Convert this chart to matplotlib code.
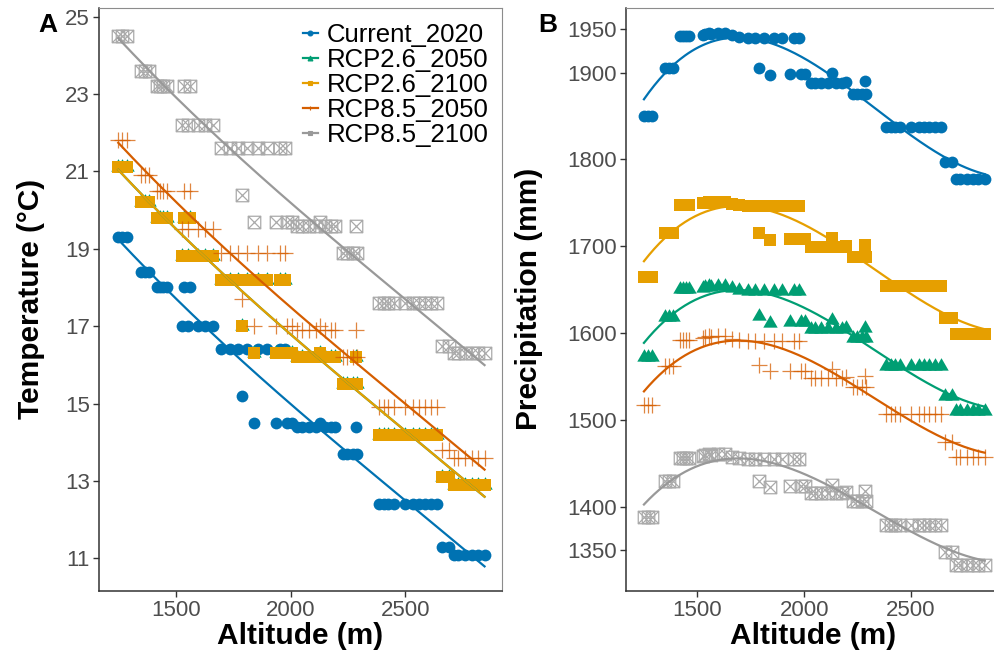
import matplotlib
matplotlib.use("Agg")
import matplotlib.pyplot as plt
import numpy as np
from matplotlib.lines import Line2D
from matplotlib.path import Path

# site altitudes (m), shared by both panels
altitude = [1250, 1268, 1286, 1348, 1366, 1384, 1418, 1432, 1446, 1460,
            1528, 1536, 1554, 1562, 1598, 1628, 1663, 1697, 1737, 1772,
            1788, 1810, 1842, 1860, 1897, 1935, 1953, 1975, 1985, 2005,
            2030, 2050, 2080, 2110, 2130, 2150, 2175, 2195, 2228, 2245,
            2270, 2284, 2290, 2385, 2405, 2425, 2450, 2500, 2535, 2560,
            2585, 2610, 2640, 2660, 2690, 2710, 2730, 2760, 2790, 2815, 2845]

# temperature (deg C)
temp_current = ([19.3] * 3 + [18.4] * 3 + [18.0] * 4
                + [17.0, 18.0, 17.0, 18.0, 17.0, 17.0, 17.0]
                + [16.4] * 3 + [15.2, 16.4, 14.5, 16.4, 16.4, 14.5, 16.4, 16.4, 14.5, 14.5]
                + [14.4] * 4 + [14.5] + [14.4] * 3 + [13.7] * 3 + [14.4, 13.7]
                + [12.4] * 10 + [11.3] * 2 + [11.1] * 6)
temp_rcp26_2050 = ([21.1] * 3 + [20.2] * 3 + [19.8] * 4
                   + [18.8, 19.8, 18.8, 19.8, 18.8, 18.8, 18.8]
                   + [18.2] * 3 + [17.0, 18.2, 16.3, 18.2, 18.2, 16.3, 18.2, 18.2, 16.3, 16.3]
                   + [16.2] * 4 + [16.3] + [16.2] * 3 + [15.5] * 3 + [16.2, 15.5]
                   + [14.2] * 10 + [13.1] * 2 + [12.9] * 6)
temp_rcp26_2100 = ([21.1] * 3 + [20.2] * 3 + [19.8] * 4
                   + [18.8, 19.8, 18.8, 19.8, 18.8, 18.8, 18.8]
                   + [18.2] * 3 + [17.0, 18.2, 16.3, 18.2, 18.2, 16.3, 18.2, 18.2, 16.3, 16.3]
                   + [16.2] * 4 + [16.3] + [16.2] * 3 + [15.5] * 3 + [16.2, 15.5]
                   + [14.2] * 10 + [13.1] * 2 + [12.9] * 6)
temp_rcp85_2050 = ([21.8] * 3 + [20.9] * 3 + [20.5] * 4
                   + [19.5, 20.5, 19.5, 20.5, 19.5, 19.5, 19.5]
                   + [18.9] * 3 + [17.7, 18.9, 17.0, 18.9, 18.9, 17.0, 18.9, 18.9, 17.0, 17.0]
                   + [16.9] * 4 + [17.0] + [16.9] * 3 + [16.2] * 3 + [16.9, 16.2]
                   + [14.9] * 10 + [13.8] * 2 + [13.6] * 6)
temp_rcp85_2100 = ([24.5] * 3 + [23.6] * 3 + [23.2] * 4
                   + [22.2, 23.2, 22.2, 23.2, 22.2, 22.2, 22.2]
                   + [21.6] * 3 + [20.4, 21.6, 19.7, 21.6, 21.6, 19.7, 21.6, 21.6, 19.7, 19.7]
                   + [19.6] * 4 + [19.7] + [19.6] * 3 + [18.9] * 3 + [19.6, 18.9]
                   + [17.6] * 10 + [16.5] * 2 + [16.3] * 6)

# precipitation (mm)
prec_current = ([1850] * 3 + [1905] * 3 + [1942] * 4
                + [1944, 1945, 1946, 1945, 1946, 1946, 1943, 1941, 1940, 1940]
                + [1906, 1940, 1897, 1940, 1940, 1898, 1940, 1940, 1898, 1898]
                + [1888] * 4 + [1900, 1888, 1888, 1889] + [1875] * 3 + [1890, 1875]
                + [1838] * 10 + [1797] * 2 + [1777] * 6)
prec_rcp26_2050 = ([1572] * 3 + [1619] * 3 + [1651] * 4
                   + [1652, 1653, 1654, 1653, 1654, 1654, 1652, 1650, 1649, 1649]
                   + [1620, 1649, 1612, 1649, 1649, 1613, 1649, 1649, 1613, 1613]
                   + [1605] * 4 + [1615, 1605, 1605, 1606] + [1594] * 3 + [1606, 1594]
                   + [1562] * 10 + [1527] * 2 + [1510] * 6)
prec_rcp26_2100 = ([1665] * 3 + [1715] * 3 + [1748] * 4
                   + [1750, 1750, 1751, 1750, 1751, 1751, 1749, 1747, 1746, 1746]
                   + [1715, 1746, 1707, 1746, 1746, 1708, 1746, 1746, 1708, 1708]
                   + [1699] * 4 + [1710, 1699, 1699, 1700] + [1688] * 3 + [1701, 1688]
                   + [1654] * 10 + [1617] * 2 + [1599] * 6)
prec_rcp85_2050 = ([1517] * 3 + [1562] * 3 + [1592] * 4
                   + [1594, 1595, 1596, 1595, 1596, 1596, 1593, 1592, 1591, 1591]
                   + [1563, 1591, 1556, 1591, 1591, 1556, 1591, 1591, 1556, 1556]
                   + [1548] * 4 + [1558, 1548, 1548, 1549] + [1538] * 3 + [1550, 1538]
                   + [1507] * 10 + [1474] * 2 + [1457] * 6)
prec_rcp85_2100 = ([1388] * 3 + [1429] * 3 + [1456] * 4
                   + [1458, 1459, 1460, 1459, 1460, 1460, 1457, 1456, 1455, 1455]
                   + [1430, 1455, 1423, 1455, 1455, 1424, 1455, 1455, 1424, 1424]
                   + [1416] * 4 + [1425, 1416, 1416, 1417] + [1406] * 3 + [1418, 1406]
                   + [1379] * 10 + [1348] * 2 + [1333] * 6)

scenarios = ["Current_2020", "RCP2.6_2050", "RCP2.6_2100", "RCP8.5_2050", "RCP8.5_2100"]
temps = [temp_current, temp_rcp26_2050, temp_rcp26_2100, temp_rcp85_2050, temp_rcp85_2100]
precs = [prec_current, prec_rcp26_2050, prec_rcp26_2100, prec_rcp85_2050, prec_rcp85_2100]

temp_ticks = [11, 13, 15, 17, 19, 21, 23, 25]
prec_ticks = [1350, 1400, 1500, 1600, 1700, 1800, 1900, 1950]
alt_ticks = [1500, 2000, 2500]

colors = ["#0072B2", "#009E73", "#E69F00", "#D55E00", "#999999"]

tri_path = Path([(0, 1), (-0.866, -0.5), (0.866, -0.5), (0, 1)],
                [Path.MOVETO, Path.LINETO, Path.LINETO, Path.CLOSEPOLY])
boxx_path = Path([(-1, -1), (1, -1), (1, 1), (-1, 1), (-1, -1),
                  (-1, -1), (1, 1), (-1, 1), (1, -1)],
                 [Path.MOVETO, Path.LINETO, Path.LINETO, Path.LINETO, Path.CLOSEPOLY,
                  Path.MOVETO, Path.LINETO, Path.MOVETO, Path.LINETO])

marker_styles = [
    dict(marker="o", markersize=8.5, markerfacecolor=colors[0], markeredgewidth=0),
    dict(marker=tri_path, markersize=12, markerfacecolor=colors[1], markeredgewidth=0),
    dict(marker="s", markersize=8.5, markerfacecolor=colors[2], markeredgewidth=0),
    dict(marker="+", markersize=12, markeredgecolor=colors[3], markeredgewidth=0.9, alpha=0.75),
    dict(marker=boxx_path, markersize=9, markerfacecolor="none", markeredgecolor="#aaaaaa",
         markeredgewidth=0.9),
]

plt.rcParams["font.family"] = ["Liberation Sans", "DejaVu Sans"]

fig = plt.figure(figsize=(9.94, 6.51), dpi=100)
fig.patch.set_facecolor("white")
ax_a = fig.add_axes([99 / 994, 1 - 590.7 / 651, 403 / 994, 582.7 / 651])
ax_b = fig.add_axes([626 / 994, 1 - 590.7 / 651, 375 / 994, 582.7 / 651])

x = np.array(altitude, dtype=float)


def style(ax):
    for side in ["left", "bottom"]:
        ax.spines[side].set_color("#333333")
        ax.spines[side].set_linewidth(1.1)
    for side in ["top", "right"]:
        ax.spines[side].set_color("#8c8c8c")
        ax.spines[side].set_linewidth(0.8)
    ax.tick_params(axis="both", labelsize=16, labelcolor="#4d4d4d", color="#333333",
                   length=4, width=1, pad=2.5)
    ax.set_xlim(1166, 2921)
    ax.set_xticks(alt_ticks)
    ax.set_xlabel("Altitude (m)", fontsize=21.5, fontweight="bold")
    ax.xaxis.set_label_coords(0.5, -0.054)


def draw_panel(ax, series):
    for i in range(5):
        y = np.array(series[i], dtype=float)
        ax.plot(x, y, linestyle="none", zorder=2 + i, **marker_styles[i])
    # smooth trend per scenario
    for i in range(5):
        y = np.array(series[i], dtype=float)
        coef = np.polyfit(x, y, 3)
        xs = np.linspace(x.min(), x.max(), 200)
        ax.plot(xs, np.polyval(coef, xs), color=colors[i], lw=1.6, zorder=10)


# Panel A: temperature
draw_panel(ax_a, temps)
ax_a.set_ylim(10.165, 25.22)
ax_a.set_yticks(temp_ticks)
ax_a.set_ylabel("Temperature (°C)", fontsize=21.5, fontweight="bold")
ax_a.yaxis.set_label_coords(-0.134, 0.5)
style(ax_a)

handles = [Line2D([], [], color=colors[i], lw=1.6, marker=["o", "^", "s", "+", "s"][i],
                  markersize=3.5, markeredgewidth=0.8) for i in range(5)]
ax_a.legend(handles, scenarios, loc="upper left", bbox_to_anchor=(0.505, 0.975),
            frameon=False, fontsize=18.5, handlelength=0.6, handletextpad=0.35,
            labelspacing=0.04, borderpad=0, borderaxespad=0)

# Panel B: precipitation
draw_panel(ax_b, precs)
ax_b.set_ylim(1303, 1974.6)
ax_b.set_yticks(prec_ticks)
ax_b.set_ylabel("Precipitation (mm)", fontsize=21.5, fontweight="bold")
ax_b.yaxis.set_label_coords(-0.221, 0.5)
style(ax_b)

fig.text(48 / 994, 1 - 25 / 651, "A", fontsize=19, fontweight="bold", ha="center", va="center")
fig.text(548 / 994, 1 - 25 / 651, "B", fontsize=19, fontweight="bold", ha="center", va="center")

fig.savefig("out.png", dpi=100)
